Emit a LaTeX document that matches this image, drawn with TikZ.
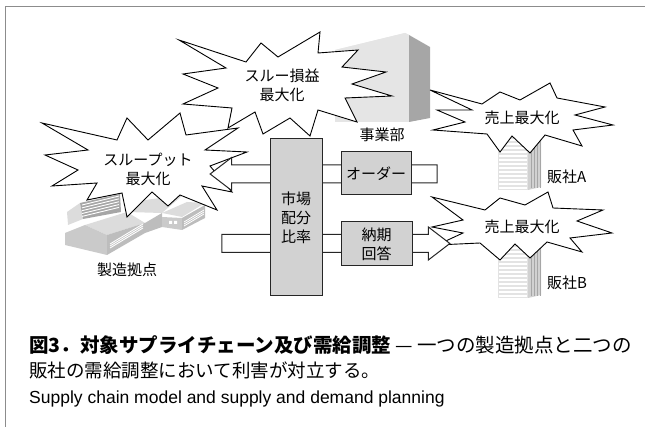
\documentclass[tikz,border=0pt]{standalone}
\usepackage{fontspec}
\setmainfont{Liberation Sans}
\newfontfamily\jp{Noto Sans CJK JP}
\usetikzlibrary{shapes.arrows}

\definecolor{boxgray}{HTML}{D2D2D2}
\definecolor{framegray}{HTML}{8C8C8C}
\definecolor{wallgray}{HTML}{BDBDBD}
\definecolor{roofgray}{HTML}{DCDCDC}
\definecolor{darkgray}{HTML}{A6A6A6}

\tikzset{
  burst/.style={draw=black, fill=white, line width=0.9pt, line join=miter},
  lbl/.style={font=\jp\fontsize{15}{19}\selectfont, align=center, inner sep=0pt},
  greybox/.style={draw=black!85, fill=boxgray, line width=1pt},
  bigarrow/.style={single arrow, draw=black!85, fill=white, line width=1pt,
    inner xsep=0pt, inner ysep=8.5pt, minimum width=32pt,
    single arrow head extend=7.5pt, single arrow tip angle=75},
  tower/.pic={
    \fill[roofgray!80] (0,0) rectangle (30,53);
    \foreach \k in {3,7,...,51} \draw[white, line width=1.2pt] (1,\k) -- (29,\k);
    \fill[wallgray!70] (30,0) -- (43,0) -- (43,50) -- (30,53) -- cycle;
    \foreach \x in {33,36,39,42} \draw[black!35, line width=0.6pt] (\x,0) -- (\x,51);
  }
}

\begin{document}
\begin{tikzpicture}[x=1pt, y=-1pt]
\useasboundingbox (0,0) rectangle (645,427);
\draw[framegray, line width=1pt] (645,7) -- (5,7) -- (5,427);

% head office block
\fill[roofgray!75] (335,50) -- (405,33) -- (409,35) -- (409,122) -- (335,122) -- cycle;
\fill[white!90!black] (335,50) -- (405,33) -- (409,35) -- (338,53) -- cycle;
\fill[darkgray] (409,35) -- (430,47) -- (430,118) -- (409,122) -- cycle;

% sales offices
\pic at (498,137) {tower};
\pic at (498,245) {tower};

% factory
\fill[roofgray] (67,212) -- (80,203) -- (83,219) -- (68,225) -- cycle;
\fill[darkgray] (80,203) -- (120,194) -- (121,212) -- (83,219) -- cycle;
\foreach \k in {0,3,...,12} \draw[white, line width=0.9pt] (82,205+\k*0.95) -- (119,196+\k*0.95);
\fill[roofgray] (127,212) -- (145,200) -- (183,195) -- (162,213) -- cycle;
\fill[wallgray] (145,223) -- (162,213) -- (162,227) -- (145,233) -- cycle;
\fill[roofgray] (85,225) -- (127,212) -- (145,223) -- (107,235) -- cycle;
\fill[wallgray!80] (65,233) -- (85,225) -- (107,235) -- (107,255) -- (65,245) -- cycle;
\fill[wallgray] (107,235) -- (145,223) -- (145,233) -- (107,255) -- cycle;
\foreach \k in {0,2,4} \draw[white, line width=0.9pt] (110,248-\k) -- (143,228-\k);
\fill[roofgray] (162,213) -- (187,202) -- (205,203) -- (182,217) -- cycle;
\fill[wallgray!80] (162,217) -- (182,218) -- (182,230) -- (162,227) -- cycle;
\fill[wallgray] (182,218) -- (205,205) -- (205,218) -- (182,230) -- cycle;
\foreach \k in {0,2,4} \draw[white, line width=0.8pt] (184,226-\k) -- (204,214-\k);
\fill[white] (169,221) rectangle (172,224) (174,221) rectangle (177,224);

% bursts
\draw[burst] (179,40) -- (246,62) -- (261,43) -- (278,57) -- (320,32) -- (318,53)
  -- (358,50) -- (342,67) -- (386,72) -- (352,84) -- (392,96) -- (345,98)
  -- (357,122) -- (318,110) -- (310,136) -- (290,118) -- (263,134) -- (255,112)
  -- (228,128) -- (232,108) -- (183,104) -- (218,88) -- (183,74) -- (226,68) -- cycle;
\draw[burst] (42,123) -- (117,140) -- (127,118) -- (148,140) -- (180,113) -- (186,135)
  -- (238,128) -- (205,150) -- (247,152) -- (210,166) -- (232,192) -- (202,186)
  -- (217,210) -- (180,195) -- (168,206) -- (152,192) -- (127,217) -- (122,193)
  -- (87,200) -- (97,183) -- (52,186) -- (78,170) -- (45,155) -- (88,150) -- cycle;
\draw[burst] (430,90) -- (482,104) -- (500,92) -- (520,100) -- (550,83) -- (557,98)
  -- (605,107) -- (575,115) -- (613,125) -- (573,130) -- (582,146) -- (545,135)
  -- (530,153) -- (512,136) -- (500,152) -- (487,134) -- (433,130) -- (465,122)
  -- (437,110) -- (472,110) -- cycle;
\draw[burst] (432,197) -- (485,210) -- (500,198) -- (525,205) -- (548,192) -- (553,208)
  -- (603,210) -- (577,221) -- (612,233) -- (570,238) -- (582,252) -- (547,242)
  -- (530,258) -- (515,244) -- (500,260) -- (480,243) -- (437,245) -- (463,233)
  -- (432,227) -- (463,220) -- cycle;

\node[lbl] (profit) at (282,85) {スルー損益\\最大化};
\node[lbl] (thru) at (148,169) {スループット\\最大化};
\node[lbl] (salesA) at (522,118) {売上最大化};
\node[lbl] (salesB) at (522,227) {売上最大化};

% flows
\node[bigarrow, shape border rotate=180, minimum height=227pt] (orderflow) at (329.5,174) {};
\node[bigarrow, minimum height=228pt] (replyflow) at (330,243.5) {};

\node[greybox, lbl, minimum width=52pt, minimum height=157pt] (ratio) at (296,217.5) {市場\\配分\\比率};
\node[greybox, lbl, minimum width=70pt, minimum height=43pt] (order) at (376,173.5) {オーダー};
\node[greybox, lbl, minimum width=71pt, minimum height=44pt] (reply) at (376.5,244) {納期\\回答};

\node[lbl] (hq) at (382,135) {事業部};
\node[lbl, anchor=west] (shopA) at (547,177) {販社A};
\node[lbl, anchor=west] (shopB) at (547,283) {販社B};
\node[lbl] (plant) at (127,270) {製造拠点};

% caption
\node[anchor=west, inner sep=0pt, font=\jp\fontsize{19.5}{23}\selectfont] (cap1) at (29,345)
  {{\bfseries 図3．対象サプライチェーン及び需給調整} — 一つの製造拠点と二つの};
\node[anchor=west, inner sep=0pt, font=\jp\fontsize{18.5}{22}\selectfont] (cap2) at (29,370)
  {販社の需給調整において利害が対立する。};
\node[anchor=west, inner sep=0pt, font=\fontsize{17.5}{20}\selectfont] (cap3) at (29,399)
  {Supply chain model and supply and demand planning};
\end{tikzpicture}
\end{document}
